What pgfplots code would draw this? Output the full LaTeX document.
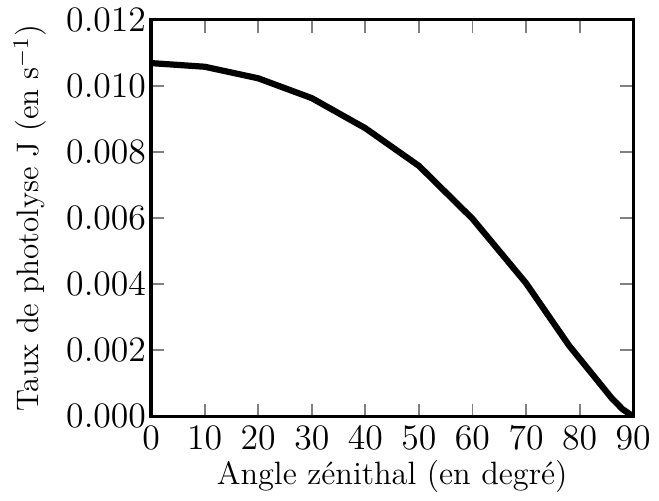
\documentclass[border=0pt]{standalone}
\usepackage{pgfplots}
\pgfplotsset{compat=1.18}

\begin{document}
\begin{tikzpicture}
\begin{axis}[
    scale only axis,
    width=194pt,
    height=159.6pt,
    xmin=0, xmax=90,
    ymin=0, ymax=0.012,
    xtick={0,10,...,90},
    ytick={0,0.002,...,0.012},
    scaled y ticks=false,
    yticklabel style={xshift=1.5pt, /pgf/number format/fixed,
        /pgf/number format/fixed zerofill, /pgf/number format/precision=3},
    xticklabel style={yshift=-0.5pt},
    tick label style={font=\fontsize{14.5}{16}\selectfont},
    tick align=inside,
    major tick length=5.2pt,
    every tick/.style={gray, line width=0.8pt},
    axis line style={line width=1.3pt},
    xlabel={Angle zénithal (en degré)},
    ylabel={Taux de photolyse J (en s$^{-1}$)},
    xlabel style={font=\fontsize{13}{15}\selectfont, yshift=2.5pt},
    ylabel style={font=\fontsize{12.5}{14}\selectfont, yshift=1pt},
]
\addplot[black, line width=2.5pt, line join=round] coordinates {
    (0,0.01069) (10,0.01058) (20,0.01023) (30,0.00963) (40,0.00872)
    (50,0.00758) (60,0.00598) (70,0.00403) (78,0.00215) (82,0.00135)
    (86,0.00055) (88,0.00022) (90,0)
};
\end{axis}
\path ([xshift=-60.8pt,yshift=-30.4pt]current axis.south west)
    rectangle ([xshift=8.8pt,yshift=7.2pt]current axis.north east);
\end{tikzpicture}
\end{document}
